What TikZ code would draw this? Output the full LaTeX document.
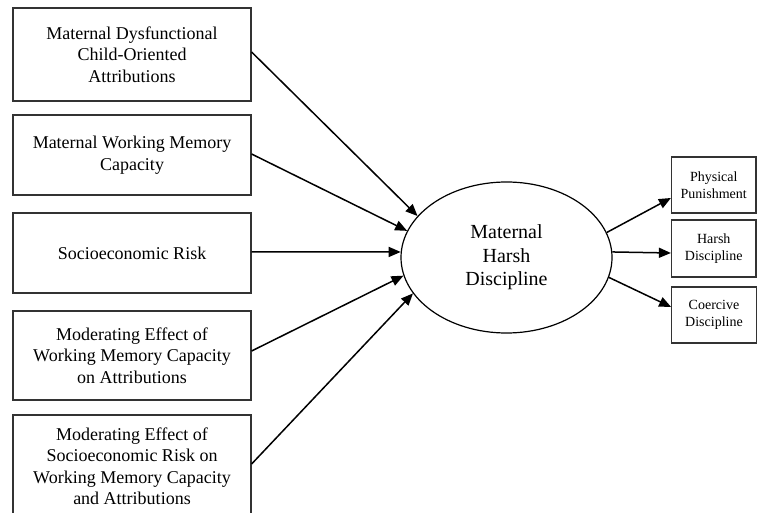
\documentclass[tikz,border=0pt]{standalone}
\usepackage{fontspec}
\setmainfont{Liberation Serif}
\usetikzlibrary{arrows.meta,shapes.geometric}
\begin{document}
\begin{tikzpicture}[x=1pt,y=-1pt,
  lbox/.style={draw=black!80,line width=1.2pt,inner sep=0pt,minimum width=238pt,align=center,
    font={\fontsize{18}{21.5}\selectfont}},
  rbox/.style={draw=black!80,line width=1.2pt,inner sep=0pt,minimum width=84.5pt,align=center,
    font={\fontsize{14}{17.3}\selectfont}},
  conn/.style={line width=1.5pt,-{Triangle[length=12pt,width=10pt]}}]
\clip (0,0) rectangle (758,513);
\fill[white] (0,0) rectangle (758,513);
\node[lbox,minimum height=93pt] (b1) at (132,54.5) {Maternal Dysfunctional\\Child-Oriented\\Attributions};
\node[lbox,minimum height=80pt] (b2) at (132,155) {Maternal Working Memory\\Capacity};
\node[lbox,minimum height=80pt] (b3) at (132,253) {Socioeconomic Risk};
\node[lbox,minimum height=89pt] (b4) at (132,355.5) {Moderating Effect of\\Working Memory Capacity\\on Attributions};
\node[lbox,minimum height=102pt] (b5) at (132,466) {Moderating Effect of\\Socioeconomic Risk on\\Working Memory Capacity\\and Attributions};
\node[ellipse,draw,line width=1.2pt,inner sep=0pt,minimum width=211pt,minimum height=151pt,align=center,
  font={\fontsize{20}{23.5}\selectfont}] (el) at (506.5,257.5) {Maternal\\Harsh\\Discipline};
\node[rbox,minimum height=56pt] (p) at (713.75,185) {Physical\\Punishment};
\node[rbox,minimum height=57pt] (h) at (713.75,248.5) {Harsh\\Discipline};
\node[rbox,minimum height=56pt] (c) at (714,315) {Coercive\\Discipline};
\draw[conn] ([yshift=2.5pt]b1.east) -- (el.155);
\draw[conn] ([yshift=1pt]b2.east) -- (el.165);
\draw[conn] ([yshift=1pt]b3.east) -- (el.177);
\draw[conn] ([yshift=4.5pt]b4.east) -- (el.190.6);
\draw[conn] ([yshift=2pt]b5.east) -- (el.201);
\draw[conn] (el.14) -- ([yshift=-13pt]p.west);
\draw[conn] (el.3) -- ([yshift=-4.5pt]h.west);
\draw[conn] (el.349) -- ([yshift=8pt]c.west);
\end{tikzpicture}
\end{document}
